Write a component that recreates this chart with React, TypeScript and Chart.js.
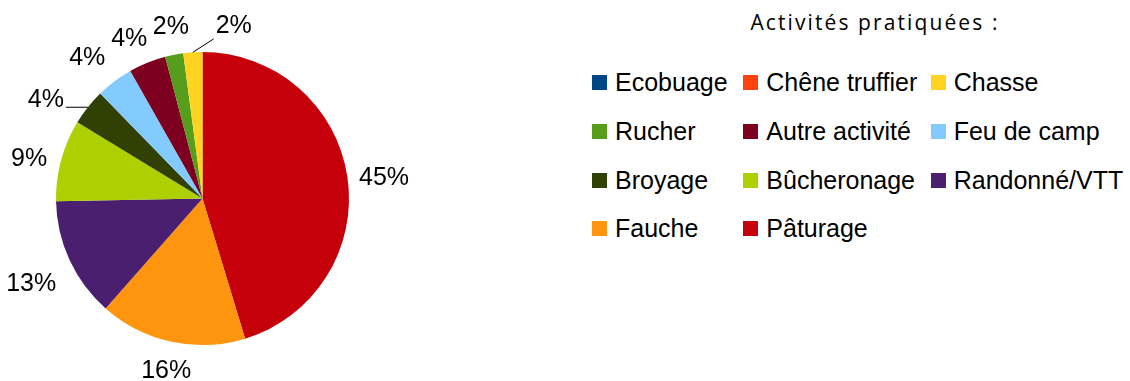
import React, { useEffect, useRef } from "react";
import { Chart, registerables } from "chart.js";

Chart.register(...registerables);

// Data (pie order, clockwise from 12 o'clock)
const categories = [
  "Pâturage",
  "Fauche",
  "Randonné/VTT",
  "Bûcheronage",
  "Broyage",
  "Feu de camp",
  "Autre activité",
  "Rucher",
  "Chasse",
  "Chêne truffier",
  "Ecobuage",
];
const shares = [45.3, 16.2, 13.2, 9.0, 4.0, 4.1, 4.1, 2.0, 2.1, 0, 0];
const sliceColors = [
  "#c5000b",
  "#ff950e",
  "#4b1f6f",
  "#aecf00",
  "#314004",
  "#83caff",
  "#7e0021",
  "#579d1c",
  "#ffd320",
  "#ff420e",
  "#004586",
];
const chartTitle = "Activités pratiquées :";

// label placement tweaks (best-fit collision avoidance), px
const labelNudges: [number, number][] = [
  [-2, 3],
  [3, 0],
  [-3, 10],
  [-1, 4],
  [-17, 8],
  [-8, -3],
  [-6, 0],
  [3, -2],
  [43, 0],
  [0, 0],
  [0, 0],
];

const FONT = "'Liberation Sans', Arial, sans-serif";

const pctLabelPlugin = {
  id: "pctLabels",
  afterDatasetsDraw(chart: any) {
    const ctx = chart.ctx;
    const meta = chart.getDatasetMeta(0);
    const data = chart.data.datasets[0].data as number[];
    const total = data.reduce((a, b) => a + b, 0);
    ctx.save();
    ctx.font = `25px ${FONT}`;
    ctx.fillStyle = "#000";
    ctx.textAlign = "center";
    ctx.textBaseline = "alphabetic";
    meta.data.forEach((arc: any, i: number) => {
      const v = data[i];
      if (!v) return;
      const { x, y, startAngle, endAngle, outerRadius } = arc.getProps(
        ["x", "y", "startAngle", "endAngle", "outerRadius"],
        true
      );
      const mid = (startAngle + endAngle) / 2;
      const c = Math.cos(mid);
      const s = Math.sin(mid);
      const text = Math.round((v / total) * 100) + "%";
      const w = ctx.measureText(text).width;
      const gap = 14;
      const hh = 14;
      const [nx, ny] = labelNudges[i] || [0, 0];
      const tx = x + c * (outerRadius + gap + w / 2) + nx;
      const ty = y + s * (outerRadius + gap + hh) + ny;
      if (Math.hypot(nx, ny) > 15) {
        const px = x + c * outerRadius;
        const py = y + s * outerRadius;
        const bx0 = tx - w / 2 - 2;
        const bx1 = tx + w / 2 + 2;
        const by0 = ty - 14.5;
        const by1 = ty + 14.5;
        const qx = Math.min(Math.max(px, bx0), bx1);
        const qy = Math.min(Math.max(py, by0), by1);
        ctx.beginPath();
        ctx.strokeStyle = "#000";
        ctx.lineWidth = 1;
        ctx.moveTo(px, py);
        ctx.lineTo(qx, qy);
        ctx.stroke();
      }
      ctx.fillText(text, tx, ty + 9);
    });
    ctx.restore();
  },
};

function PieChart() {
  const ref = useRef<HTMLCanvasElement | null>(null);
  useEffect(() => {
    if (!ref.current) return;
    const chart = new Chart(ref.current, {
      type: "pie",
      data: {
        labels: categories,
        datasets: [
          {
            data: shares,
            backgroundColor: sliceColors,
            borderWidth: 0,
          },
        ],
      },
      options: {
        animation: false,
        responsive: false,
        maintainAspectRatio: false,
        layout: { padding: { left: 56, top: 52, right: 71, bottom: 36 } },
        plugins: {
          legend: { display: false },
          tooltip: { enabled: false },
          title: { display: false },
        },
      },
      plugins: [pctLabelPlugin],
    });
    return () => chart.destroy();
  }, []);
  return (
    <canvas
      ref={ref}
      width={420}
      height={381}
      style={{ position: "absolute", left: 0, top: 0, width: 420, height: 381 }}
    />
  );
}

export default function App() {
  const legendOrder = categories.map((_, i) => i).reverse();
  return (
    <div
      style={{
        position: "absolute",
        left: 0,
        top: 0,
        width: 1130,
        height: 381,
        background: "#fff",
        overflow: "hidden",
      }}
    >
      <PieChart />
      <div
        style={{
          position: "absolute",
          left: 700,
          width: 350,
          top: 7,
          textAlign: "center",
          fontFamily: "'Open Sans', 'Noto Sans', sans-serif",
          fontSize: 21,
          letterSpacing: 2.1,
          lineHeight: "30px",
          color: "#000",
        }}
      >
        {chartTitle}
      </div>
      <div
        style={{
          position: "absolute",
          left: 592,
          top: 58.5,
          display: "grid",
          gridTemplateColumns: "151.3px 187.4px auto",
          gridAutoRows: "48.7px",
          fontFamily: FONT,
          fontSize: 25,
          color: "#000",
        }}
      >
        {legendOrder.map((i) => (
          <div
            key={categories[i]}
            style={{ display: "flex", alignItems: "center", whiteSpace: "nowrap" }}
          >
            <span
              style={{
                display: "inline-block",
                width: 15,
                height: 15,
                background: sliceColors[i],
                marginRight: 8,
                flex: "0 0 auto",
              }}
            />
            <span style={{ lineHeight: 1 }}>{categories[i]}</span>
          </div>
        ))}
      </div>
    </div>
  );
}
